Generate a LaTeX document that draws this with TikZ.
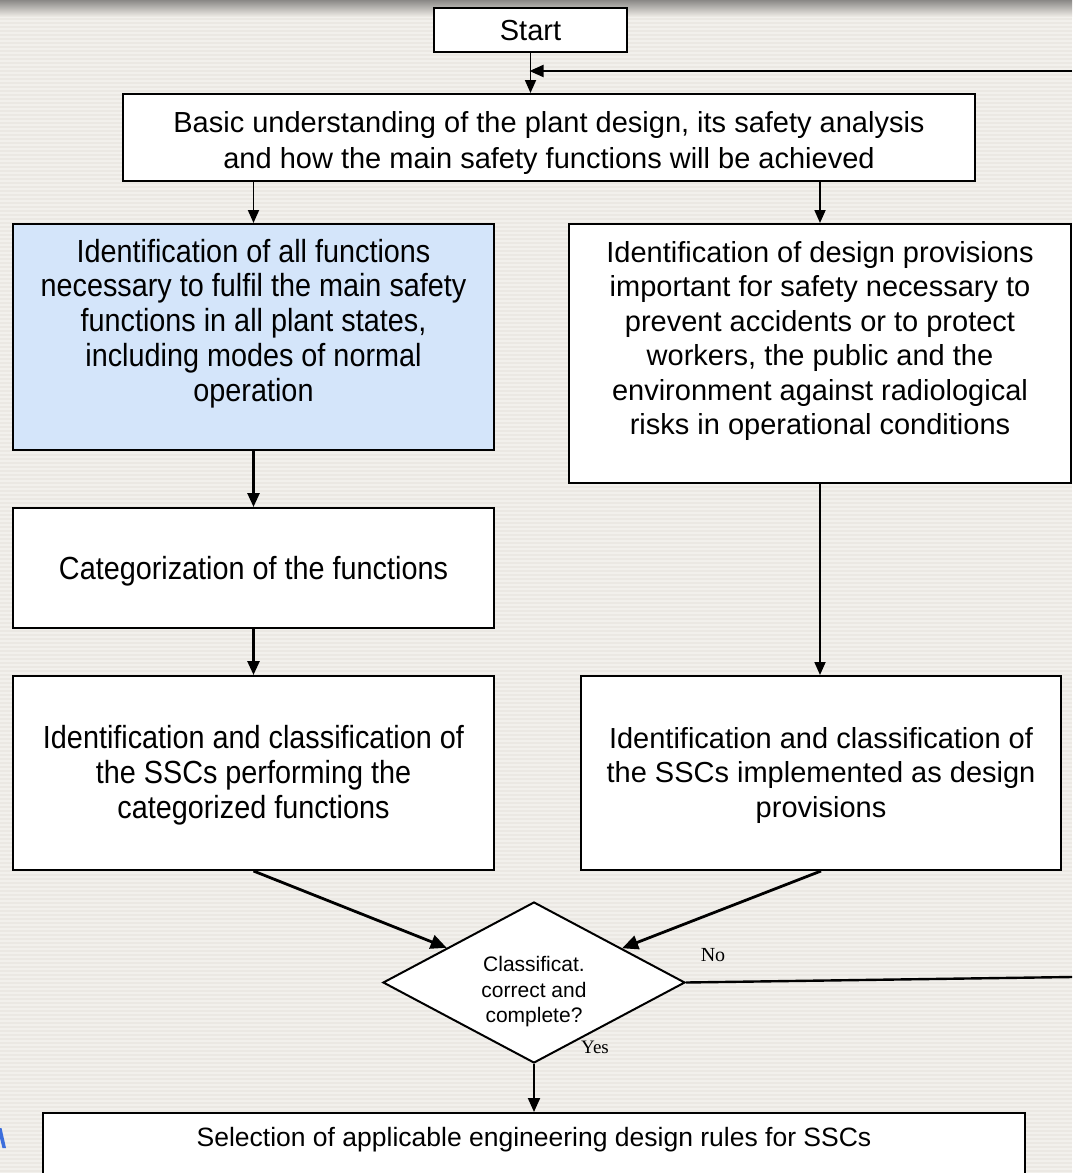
\documentclass[tikz,border=0pt]{standalone}
\usepackage{fontspec}
\setmainfont{Liberation Sans}
\newfontfamily\narrowfont[FakeStretch=0.9]{Liberation Sans}
\newfontfamily\timesfont{Liberation Serif}
\usetikzlibrary{shapes.geometric,arrows.meta,calc}
\definecolor{bgc}{RGB}{235,232,227}
\definecolor{stripec}{RGB}{242,240,236}
\definecolor{topgray}{RGB}{138,136,134}
\definecolor{lightblue}{RGB}{212,229,250}
\definecolor{cutblue}{RGB}{60,110,220}
\begin{document}
\begin{tikzpicture}[x=1pt,y=-1pt,
  box/.style={draw=black,line width=2pt,fill=white,inner sep=0pt},
  txt/.style={align=center,inner sep=0pt,font=\fontsize{29}{34.5}\selectfont},
  ntxt/.style={align=center,inner sep=0pt,font=\narrowfont\fontsize{32}{34.8}\selectfont},
  arr/.style={line width=2pt,-{Triangle[length=14pt,width=12pt]}},
  thinarr/.style={line width=1.8pt,-{Triangle[length=13pt,width=11pt]}},
  lbl/.style={inner sep=0pt,font=\timesfont\fontsize{20}{22}\selectfont}
]
\useasboundingbox (0,0) rectangle (1072,1173);
% background
\fill[bgc] (0,0) rectangle (1072,1173);
\foreach \yy in {0,4,...,1172} \fill[stripec] (0,\yy) rectangle (1072,\yy+2);
\shade[top color=topgray,bottom color=bgc] (0,0) rectangle (1072,16);

% boxes
\node[box,minimum width=193pt,minimum height=44pt] (start) at (530.5,30) {};
\node[txt] (startt) at (530.5,31) {Start};

\node[box,minimum width=852pt,minimum height=87pt] (basic) at (549,137.5) {};
\node[txt,font=\fontsize{29}{36}\selectfont] (basict) at (549,143) {Basic understanding of the plant design, its safety analysis\\and how the main safety functions will be achieved};

\node[box,fill=lightblue,minimum width=481pt,minimum height=226pt] (blue) at (253.5,337) {};
\node[ntxt] (bluet) at (253.5,323.5) {Identification of all functions\\necessary to fulfil the main safety\\functions in all plant states,\\including modes of normal\\operation};

\node[box,minimum width=502pt,minimum height=259pt] (design) at (820,353.5) {};
\node[txt] (designt) at (820,341) {Identification of design provisions\\important for safety necessary to\\prevent accidents or to protect\\workers, the public and the\\environment against radiological\\risks in operational conditions};

\node[box,minimum width=481pt,minimum height=120pt] (cat) at (253.5,568) {};
\node[ntxt] (catt) at (253.5,571) {Categorization of the functions};

\node[box,minimum width=481pt,minimum height=194pt] (lssc) at (253.5,773) {};
\node[ntxt] (lssct) at (253.5,775) {Identification and classification of\\the SSCs performing the\\categorized functions};

\node[box,minimum width=480pt,minimum height=194pt] (rssc) at (821,773) {};
\node[txt] (rssct) at (821,775) {Identification and classification of\\the SSCs implemented as design\\provisions};

\node[diamond,draw=black,line width=2pt,fill=white,inner sep=0pt,shape aspect=1.876,minimum width=302pt,minimum height=161pt] (dec) at (534,982.5) {};
\node[align=center,inner sep=0pt,font=\fontsize{21}{25.5}\selectfont] (dect) at (534,992) {Classificat.\\correct and\\complete?};

\node[box,minimum width=982pt,minimum height=100pt] (final) at (534,1163) {};
\node[inner sep=0pt,font=\fontsize{26.5}{30}\selectfont] (finalt) at (534,1140) {Selection of applicable engineering design rules for SSCs};

% labels
\node[lbl] (nolbl) at (713,955) {No};
\node[lbl,font=\timesfont\fontsize{19}{21}\selectfont] (yeslbl) at (595,1047) {Yes};

% fragment of a blue glyph cut by the left edge
\fill[cutblue] (0,1128) -- (1.5,1128) -- (6,1148) -- (2.5,1148) -- (0,1138) -- cycle;

% connectors
\coordinate (fbtop) at (1072,71);
\coordinate (fbbot) at (1072,977);
\draw[thinarr] (start.south) -- (start.south |- basic.north);
\draw[line width=2pt,-{Triangle[length=14pt,width=12pt]},shorten >=-1pt] (fbtop) -- (start.south |- fbtop);
\draw[thinarr] (blue.north |- basic.south) -- (blue.north);
\draw[thinarr] (design.north |- basic.south) -- (design.north);
\draw[arr,line width=2.6pt] (blue.south) -- (cat.north);
\draw[arr,line width=2.6pt] (cat.south) -- (lssc.north);
\draw[thinarr] (design.south) -- (design.south |- rssc.north);
\draw[arr,line width=2.8pt,-{Triangle[length=16pt,width=14pt]}] (lssc.south) -- (dec);
\draw[arr,line width=2.8pt,-{Triangle[length=16pt,width=14pt]}] (rssc.south) -- (dec);
\draw[line width=2.4pt] (dec.east) -- (fbbot);
\draw[arr] (dec.south) -- (dec.south |- final.north);
\end{tikzpicture}
\end{document}
